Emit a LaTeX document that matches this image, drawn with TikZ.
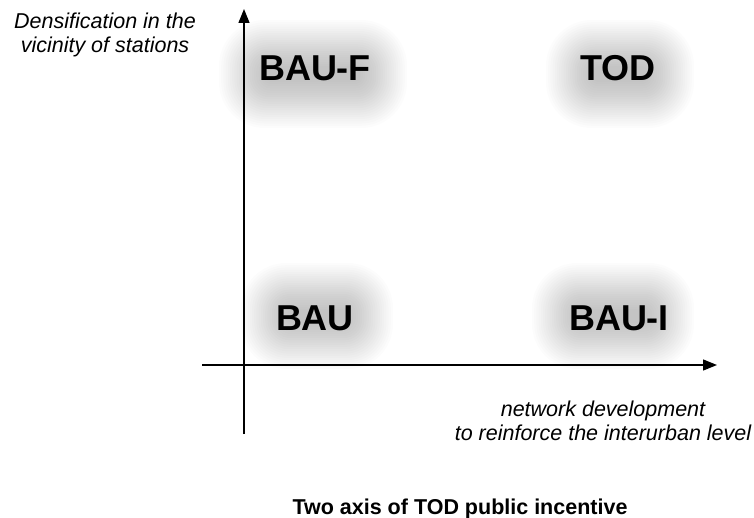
\documentclass[tikz,border=0pt]{standalone}
\usepackage{fontspec}
\setmainfont{Liberation Sans}
\usetikzlibrary{arrows.meta}
\newcommand\myglow[4]{%
  \foreach \i in {0,...,21}{%
    \pgfmathsetmacro\gx{#3-\i*2.2}%
    \pgfmathsetmacro\gy{#4-\i*2.2}%
    \pgfmathsetmacro\gr{0.85*\gy}%
    \fill[black,fill opacity=0.011,rounded corners=\gr pt] (#1-\gx,#2-\gy) rectangle (#1+\gx,#2+\gy);
  }}
\begin{document}
\begin{tikzpicture}[x=1pt,y=-1pt,
  axis/.style={line width=1.3pt, -{Stealth[length=14pt,width=11pt,inset=0pt]}},
  big/.style={font=\fontsize{36}{40}\selectfont\bfseries, inner sep=0pt, anchor=base},
  note/.style={font=\fontsize{21.5}{24}\selectfont\itshape, align=center, inner sep=0pt},
  ttl/.style={font=\fontsize{21.5}{24}\selectfont\bfseries, inner sep=0pt, anchor=base}]
\useasboundingbox (0,0) rectangle (754,518);
% glows
\myglow{313}{74}{94}{54}
\myglow{620}{74}{74}{54}
\myglow{317}{316}{76}{53}
\myglow{613}{316}{81}{53}
% axes
\coordinate (yb) at (244,434);
\coordinate (yt) at (244,9);
\coordinate (xl) at (202,365);
\coordinate (xr) at (717,365);
\draw[axis] (yb) -- (yt);
\draw[axis] (xl) -- (xr);
% labels
\node[big] (bauf) at (315,81) {BAU-F};
\node[big] (tod) at (618,81) {TOD};
\node[big] (bau) at (315,330) {BAU};
\node[big] (baui) at (619,330) {BAU-I};
\node[note] (dens) at (105,35.4) {Densification in the\\vicinity of stations};
\node[note] (net) at (603,421) {network development\\to reinforce the interurban level};
\node[ttl] (title) at (460,514) {Two axis of TOD public incentive};
\end{tikzpicture}
\end{document}
